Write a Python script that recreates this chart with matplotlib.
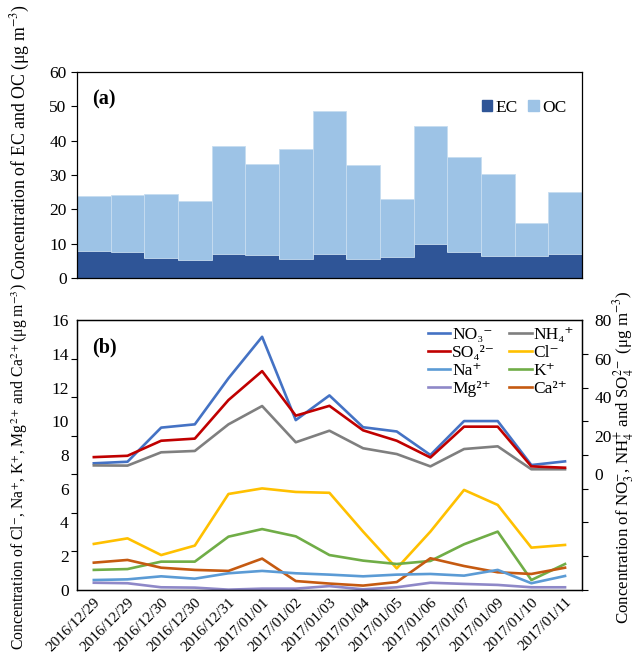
import numpy as np
import matplotlib
matplotlib.use("Agg")
import matplotlib.pyplot as plt
from matplotlib.lines import Line2D
from matplotlib.patches import Patch

plt.rcParams["font.family"] = ["Liberation Serif", "DejaVu Serif"]
plt.rcParams["mathtext.fontset"] = "stix"

dates = ["2016/12/29", "2016/12/29", "2016/12/30", "2016/12/30", "2016/12/31",
         "2017/01/01", "2017/01/02", "2017/01/03", "2017/01/04", "2017/01/05",
         "2017/01/06", "2017/01/07", "2017/01/09", "2017/01/10", "2017/01/11"]

# carbonaceous fractions (ug m-3)
ec = [7.9, 7.7, 5.7, 5.3, 7.1, 6.6, 5.5, 7.1, 5.6, 6.0, 9.9, 7.6, 6.3, 6.3, 6.9]
total_carbon = [24.0, 24.3, 24.5, 22.5, 38.3, 33.3, 37.5, 48.7, 33.0, 23.1,
                44.3, 35.2, 30.4, 16.1, 25.0]
oc = [t - e for t, e in zip(total_carbon, ec)]

# major ions, right-hand scale (ug m-3)
no3 = [5.7, 6.5, 24.2, 25.9, 49.8, 71.3, 28.1, 40.9, 24.4, 22.2, 10.0, 27.6, 27.6, 4.8, 6.7]
so4 = [8.9, 9.6, 17.4, 18.5, 38.5, 53.5, 30.4, 35.5, 22.8, 17.4, 8.7, 24.7, 24.7, 4.1, 3.4]
nh4 = [4.6, 4.5, 11.4, 12.1, 25.9, 35.4, 16.6, 22.6, 13.5, 10.5, 4.1, 13.1, 14.5, 2.6, 2.6]

# minor ions, left-hand scale (ug m-3)
cl = [2.73, 3.06, 2.07, 2.63, 5.69, 6.02, 5.81, 5.76, 3.46, 1.28, 3.46, 5.93, 5.04, 2.51, 2.67]
k = [1.19, 1.24, 1.68, 1.68, 3.16, 3.61, 3.18, 2.07, 1.74, 1.54, 1.72, 2.71, 3.46, 0.59, 1.54]
na = [0.59, 0.63, 0.81, 0.67, 0.99, 1.13, 0.99, 0.91, 0.81, 0.91, 0.95, 0.85, 1.19, 0.40, 0.83]
mg = [0.43, 0.40, 0.16, 0.14, 0.02, 0.08, 0.08, 0.23, 0.04, 0.16, 0.43, 0.36, 0.30, 0.16, 0.16]
ca = [1.62, 1.78, 1.32, 1.19, 1.13, 1.86, 0.53, 0.38, 0.26, 0.47, 1.88, 1.42, 1.05, 0.95, 1.32]

C_EC, C_OC = "#2F5597", "#9DC3E6"
C_NO3, C_SO4, C_NH4 = "#4472C4", "#C00000", "#7F7F7F"
C_CL, C_NA, C_K, C_MG, C_CA = "#FFC000", "#5B9BD5", "#70AD47", "#8E88C8", "#C55A11"

W, H = 638, 657
x = np.arange(len(dates))
fig = plt.figure(figsize=(W / 100, H / 100), dpi=100)

# ---- (a) EC / OC stacked columns ----
ax1 = fig.add_axes([0.1207, 0.5769, 0.7913, 0.3135])
ax1.bar(x, ec, width=1.0, color=C_EC, linewidth=0)
ax1.bar(x, oc, width=1.0, bottom=ec, color=C_OC, edgecolor="#C7DDF0", linewidth=0.6)
ax1.set_xlim(-0.5, len(dates) - 0.5)
ax1.set_ylim(0, 60)
ax1.set_yticks(range(0, 61, 10))
ax1.set_xticks([])
ax1.tick_params(axis="y", direction="out", length=4, labelsize=12.5, width=0.8)
ax1.text(0.03, 0.84, "(a)", transform=ax1.transAxes, fontsize=14.5, fontweight="bold")
ax1.legend(handles=[Patch(color=C_EC, label="EC"), Patch(color=C_OC, label="OC")],
           loc="upper right", ncol=2, frameon=False, fontsize=12.5,
           handlelength=0.6, handleheight=0.6, handletextpad=0.2, columnspacing=0.6,
           bbox_to_anchor=(1.0, 0.94))

# ---- (b) water-soluble ions ----
ax2 = fig.add_axes([0.1207, 0.102, 0.7913, 0.4109])
ax3 = ax2.twinx()
L_LO, L_HI = 0, 16
R_LO, R_HI = -60, 80
ax2.set_ylim(L_LO, L_HI)
ax3.set_ylim(R_LO, R_HI)
ax2.set_xlim(-0.5, len(dates) - 0.5)

lw = 1.9
ax3.plot(x, no3, color=C_NO3, lw=lw)
ax3.plot(x, nh4, color=C_NH4, lw=lw)
ax3.plot(x, so4, color=C_SO4, lw=lw)
ax2.plot(x, cl, color=C_CL, lw=lw)
ax2.plot(x, k, color=C_K, lw=lw)
ax2.plot(x, ca, color=C_CA, lw=lw)
ax2.plot(x, na, color=C_NA, lw=lw)
ax2.plot(x, mg, color=C_MG, lw=lw)

# labelled values without marks; tick marks follow the opposite scale
left_labels = np.arange(0, 17, 2)
right_labels = np.arange(0, 81, 20)
ax2.set_yticks(left_labels)
ax2.tick_params(axis="y", which="major", length=0, labelsize=12.5, pad=6)
ax2.set_yticks(np.interp(np.arange(R_LO, R_HI + 1, 20), [R_LO, R_HI], [L_LO, L_HI]),
               minor=True)
ax2.tick_params(axis="y", which="minor", direction="out", length=4, width=0.8)
ax3.set_yticks(right_labels)
ax3.tick_params(axis="y", which="major", length=0, labelsize=12.5, pad=9)
ax3.set_yticks(np.interp(np.arange(L_LO, L_HI + 1, 2), [L_LO, L_HI], [R_LO, R_HI]),
               minor=True)
ax3.tick_params(axis="y", which="minor", direction="out", length=4, width=0.8)

ax2.set_xticks(x)
ax2.set_xticklabels(dates, rotation=45, ha="right", rotation_mode="anchor", fontsize=11)
ax2.tick_params(axis="x", length=0, pad=4)

ax2.text(0.03, 0.88, "(b)", transform=ax2.transAxes, fontsize=14.5, fontweight="bold")

handles = [
    Line2D([], [], color=C_NO3, lw=lw, label="NO₃⁻"),
    Line2D([], [], color=C_SO4, lw=lw, label="SO₄²⁻"),
    Line2D([], [], color=C_NA, lw=lw, label="Na⁺"),
    Line2D([], [], color=C_MG, lw=lw, label="Mg²⁺"),
    Line2D([], [], color=C_NH4, lw=lw, label="NH₄⁺"),
    Line2D([], [], color=C_CL, lw=lw, label="Cl⁻"),
    Line2D([], [], color=C_K, lw=lw, label="K⁺"),
    Line2D([], [], color=C_CA, lw=lw, label="Ca²⁺"),
]
ax3.legend(handles=handles, loc="upper left", ncol=2, frameon=False, fontsize=12.5,
           handlelength=1.3, handletextpad=0.1, columnspacing=0.8, labelspacing=0.1,
           borderpad=0, borderaxespad=0, bbox_to_anchor=(0.695, 0.975))

# vertical axis titles, sized to the span each one covers
titles = [
    ("Concentration of EC and OC (μg m$^{-3}$)", 20, 142, 276),
    ("Concentration of Cl$^{-}$, Na$^{+}$, K$^{+}$, Mg$^{2+}$ and Ca$^{2+}$(μg m$^{-3}$)",
     20, 467, 366),
    ("Concentration of NO$_3^{-}$, NH$_4^{+}$ and SO$_4^{2-}$ (μg m$^{-3}$)", 624, 457, 333),
]
renderer = fig.canvas.get_renderer()
for label, px, py, span in titles:
    t = fig.text(px / W, 1 - py / H, label, rotation=90, ha="center", va="center",
                 fontsize=12)
    h = t.get_window_extent(renderer).height
    t.set_fontsize(12 * span / h)

for a in (ax1, ax2, ax3):
    for s in a.spines.values():
        s.set_linewidth(0.9)
        s.set_color("black")

fig.savefig("out.png", dpi=100)
